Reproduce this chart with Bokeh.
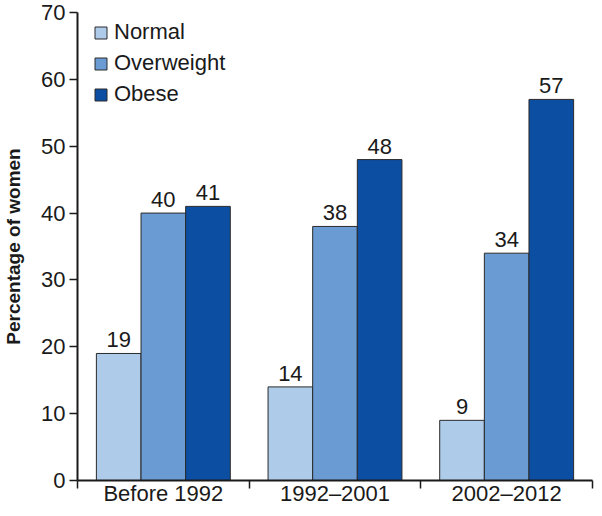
from bokeh.plotting import figure
from bokeh.models import Range1d, FixedTicker, ColumnDataSource, Legend, LegendItem
from bokeh.embed import file_html
from bokeh.resources import INLINE
from bokeh.core.properties import value

periods = ["Before 1992", "1992\u20132001", "2002\u20132012"]
series = ["Normal", "Overweight", "Obese"]
normal = [19, 14, 9]
overweight = [40, 38, 34]
obese = [41, 48, 57]
colors = ["#aecbea", "#6a9bd2", "#0c4ea2"]
y_ticks = [0, 10, 20, 30, 40, 50, 60, 70]

FONT = "Liberation Sans"
FS = "22px"

p = figure(width=594, height=508, output_backend="svg", toolbar_location=None,
           x_range=Range1d(0, 3), y_range=Range1d(0, 70),
           min_border_left=77, min_border_right=2, min_border_top=12, min_border_bottom=0)
p.outline_line_color = None
p.xgrid.visible = False
p.ygrid.visible = False

bar_w = 0.26
offsets = [-bar_w, 0, bar_w]
renderers = []
for vals, off, col, name in zip([normal, overweight, obese], offsets, colors, series):
    xs = [i + 0.5 + off for i in range(len(periods))]
    src = ColumnDataSource(dict(x=xs, top=vals, lab=[str(v) for v in vals]))
    r = p.vbar(x="x", top="top", bottom=0, width=bar_w, source=src,
               fill_color=col, line_color="#2a2a2a", line_width=1)
    renderers.append((name, r))
    p.text(x="x", y="top", text="lab", source=src, text_align="center",
           text_baseline="bottom", y_offset=-6, text_font=value(FONT),
           text_font_size=FS, text_color="#1a1a1a")

legend = Legend(items=[LegendItem(label=n, renderers=[r]) for n, r in renderers],
                location=(16, 373), border_line_color=None, background_fill_alpha=0,
                label_text_font=FONT, label_text_font_size=FS, label_text_color="#1a1a1a",
                glyph_width=15, glyph_height=15, spacing=5, padding=5, margin=0,
                label_standoff=6, label_height=22)
p.add_layout(legend, "center")

# x axis
xa = p.xaxis[0]
xa.ticker = FixedTicker(ticks=[0.5, 1.5, 2.5], minor_ticks=[0, 1, 2, 3])
xa.major_label_overrides = {0.5: periods[0], 1.5: periods[1], 2.5: periods[2]}
xa.major_tick_out = 0
xa.major_tick_in = 0
xa.minor_tick_out = 8
xa.minor_tick_in = 0
xa.minor_tick_line_color = "#1a1a1a"
xa.minor_tick_line_width = 1.5
xa.axis_line_width = 2
xa.axis_line_color = "#1a1a1a"
xa.major_label_text_font = FONT
xa.major_label_text_font_size = FS
xa.major_label_text_color = "#1a1a1a"
xa.major_label_standoff = -8
xa.axis_label_standoff = 0

ya = p.yaxis[0]
ya.ticker = FixedTicker(ticks=y_ticks)
ya.minor_tick_line_color = None
ya.major_tick_out = 8
ya.major_tick_in = 0
ya.major_tick_line_width = 1.5
ya.major_tick_line_color = "#1a1a1a"
ya.axis_line_width = 2
ya.axis_line_color = "#1a1a1a"
ya.major_label_text_font = FONT
ya.major_label_text_font_size = FS
ya.major_label_text_color = "#1a1a1a"
ya.major_label_standoff = 4
ya.axis_label = "Percentage of women"
ya.axis_label_text_font = FONT
ya.axis_label_text_font_style = "bold"
ya.axis_label_text_font_size = "19px"
ya.axis_label_text_color = "#1a1a1a"
ya.axis_label_standoff = 14

open("out.html", "w").write(file_html(p, INLINE))
